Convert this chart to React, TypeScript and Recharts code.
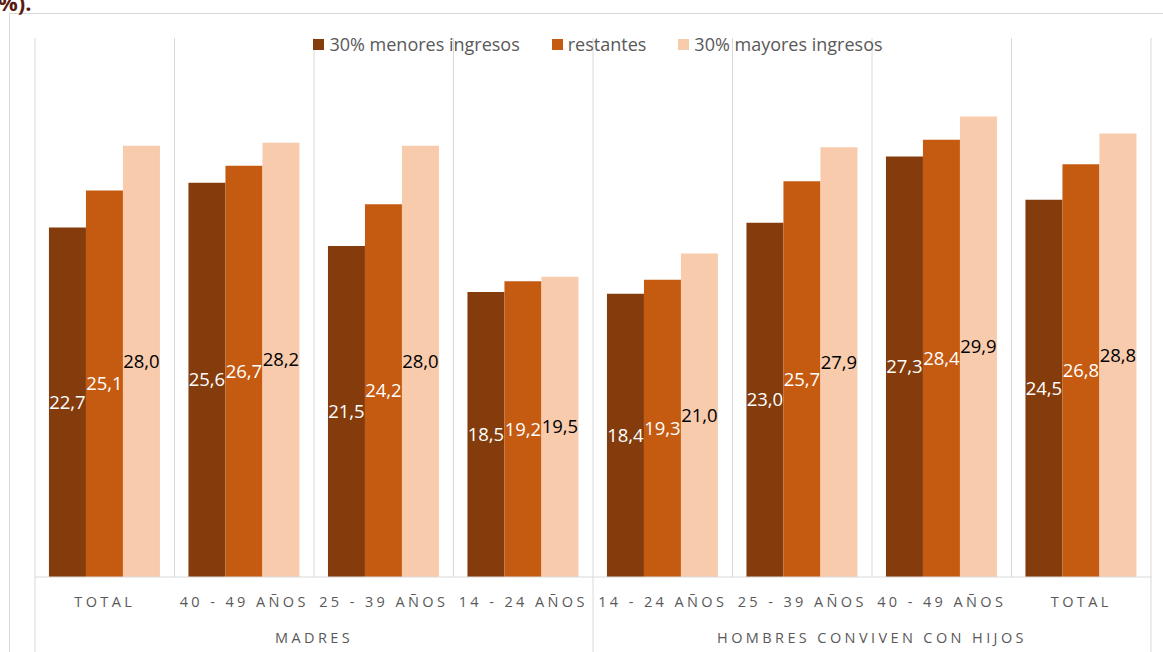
import React from 'react';
import { BarChart, Bar, XAxis, YAxis, CartesianGrid, Legend, LabelList } from 'recharts';

const categories = [
  'TOTAL',
  '40 - 49 AÑOS',
  '25 - 39 AÑOS',
  '14 - 24 AÑOS',
  '14 - 24 AÑOS',
  '25 - 39 AÑOS',
  '40 - 49 AÑOS',
  'TOTAL',
];
const lowIncome = [22.7, 25.6, 21.5, 18.5, 18.4, 23.0, 27.3, 24.5];
const middleIncome = [25.1, 26.7, 24.2, 19.2, 19.3, 25.7, 28.4, 26.8];
const highIncome = [28.0, 28.2, 28.0, 19.5, 21.0, 27.9, 29.9, 28.8];
const groups = [
  { label: 'MADRES', start: 0, end: 3 },
  { label: 'HOMBRES CONVIVEN CON HIJOS', start: 4, end: 7 },
];
const series = [
  { key: 'low', name: '30% menores ingresos', color: '#843C0C', labelColor: '#ffffff' },
  { key: 'mid', name: 'restantes', color: '#C55A11', labelColor: '#ffffff' },
  { key: 'high', name: '30% mayores ingresos', color: '#F8CBAD', labelColor: '#000000' },
];

const data = categories.map((cat, i) => ({
  cat,
  low: lowIncome[i],
  mid: middleIncome[i],
  high: highIncome[i],
}));

const W = 1163;
const H = 652;
const axisH = 75;
const margin = { top: 38, right: 12, bottom: 0, left: 35 };
const plotW = W - margin.left - margin.right;
const band = plotW / categories.length;
const baseY = H - axisH;
const gridColor = '#d9d9d9';
const textColor = '#595959';
const font = '"Open Sans", "Noto Sans", sans-serif';

const fmt = (v: any) => Number(v).toFixed(1).replace('.', ',');

const CategoryTick = (props: any) => {
  const { x, payload } = props;
  const index = payload.index;
  const group = groups.find(g => g.start === index);
  return (
    <g>
      <text
        x={x}
        y={baseY + 24}
        textAnchor="middle"
        dominantBaseline="central"
        fill={textColor}
        fontSize={14.5}
        letterSpacing={3.4}
        fontFamily={font}
      >
        {payload.value}
      </text>
      {group && (
        <text
          x={x + ((group.end - group.start) * band) / 2}
          y={baseY + 60}
          textAnchor="middle"
          dominantBaseline="central"
          fill={textColor}
          fontSize={14.5}
          letterSpacing={3.4}
          fontFamily={font}
        >
          {group.label}
        </text>
      )}
      {group && <line x1={x - band / 2} x2={x - band / 2} y1={baseY} y2={H} stroke={gridColor} />}
      {index === categories.length - 1 && (
        <line x1={x + band / 2} x2={x + band / 2} y1={baseY} y2={H} stroke={gridColor} />
      )}
    </g>
  );
};

const renderLegend = () => (
  <div style={{ display: 'flex', justifyContent: 'center', fontFamily: font, fontSize: 18, color: textColor }}>
    {series.map((s, i) => (
      <div
        key={s.key}
        style={{ display: 'flex', alignItems: 'center', marginRight: i < series.length - 1 ? 32 : 0 }}
      >
        <span style={{ width: 11, height: 11, background: s.color, display: 'inline-block', marginRight: 5 }} />
        <span>{s.name}</span>
      </div>
    ))}
  </div>
);

export default function App() {
  return (
    <div style={{ position: 'absolute', left: 0, top: 0, width: W, height: H, overflow: 'hidden', background: '#fff' }}>
      <div
        style={{
          position: 'absolute',
          left: 9,
          top: 13,
          width: W,
          height: H,
          border: `1px solid ${gridColor}`,
        }}
      />
      <div
        style={{
          position: 'absolute',
          left: -2,
          top: -13,
          fontFamily: font,
          fontWeight: 700,
          fontSize: 22,
          color: '#5b1b12',
        }}
      >
        %).
      </div>
      <BarChart
        width={W}
        height={H}
        data={data}
        margin={margin}
        barCategoryGap="10%"
        barGap={0}
      >
        <CartesianGrid
          horizontal={false}
          stroke={gridColor}
          verticalCoordinatesGenerator={({ offset }: any) =>
            Array.from({ length: categories.length + 1 }, (_, i) => offset.left + (i * offset.width) / categories.length)
          }
        />
        <XAxis
          dataKey="cat"
          interval={0}
          height={axisH}
          tickLine={false}
          axisLine={{ stroke: gridColor }}
          tick={<CategoryTick />}
        />
        <YAxis hide domain={[0, 35]} />
        <Legend
          verticalAlign="middle"
          align="center"
          layout="horizontal"
          content={renderLegend}
          wrapperStyle={{ top: 32, left: margin.left + 5, width: plotW }}
        />
        {series.map(s => (
          <Bar key={s.key} dataKey={s.key} name={s.name} fill={s.color} isAnimationActive={false}>
            <LabelList
              dataKey={s.key}
              position="center"
              formatter={fmt}
              fill={s.labelColor}
              fontSize={18.5}
              fontFamily={font}
            />
          </Bar>
        ))}
      </BarChart>
    </div>
  );
}
